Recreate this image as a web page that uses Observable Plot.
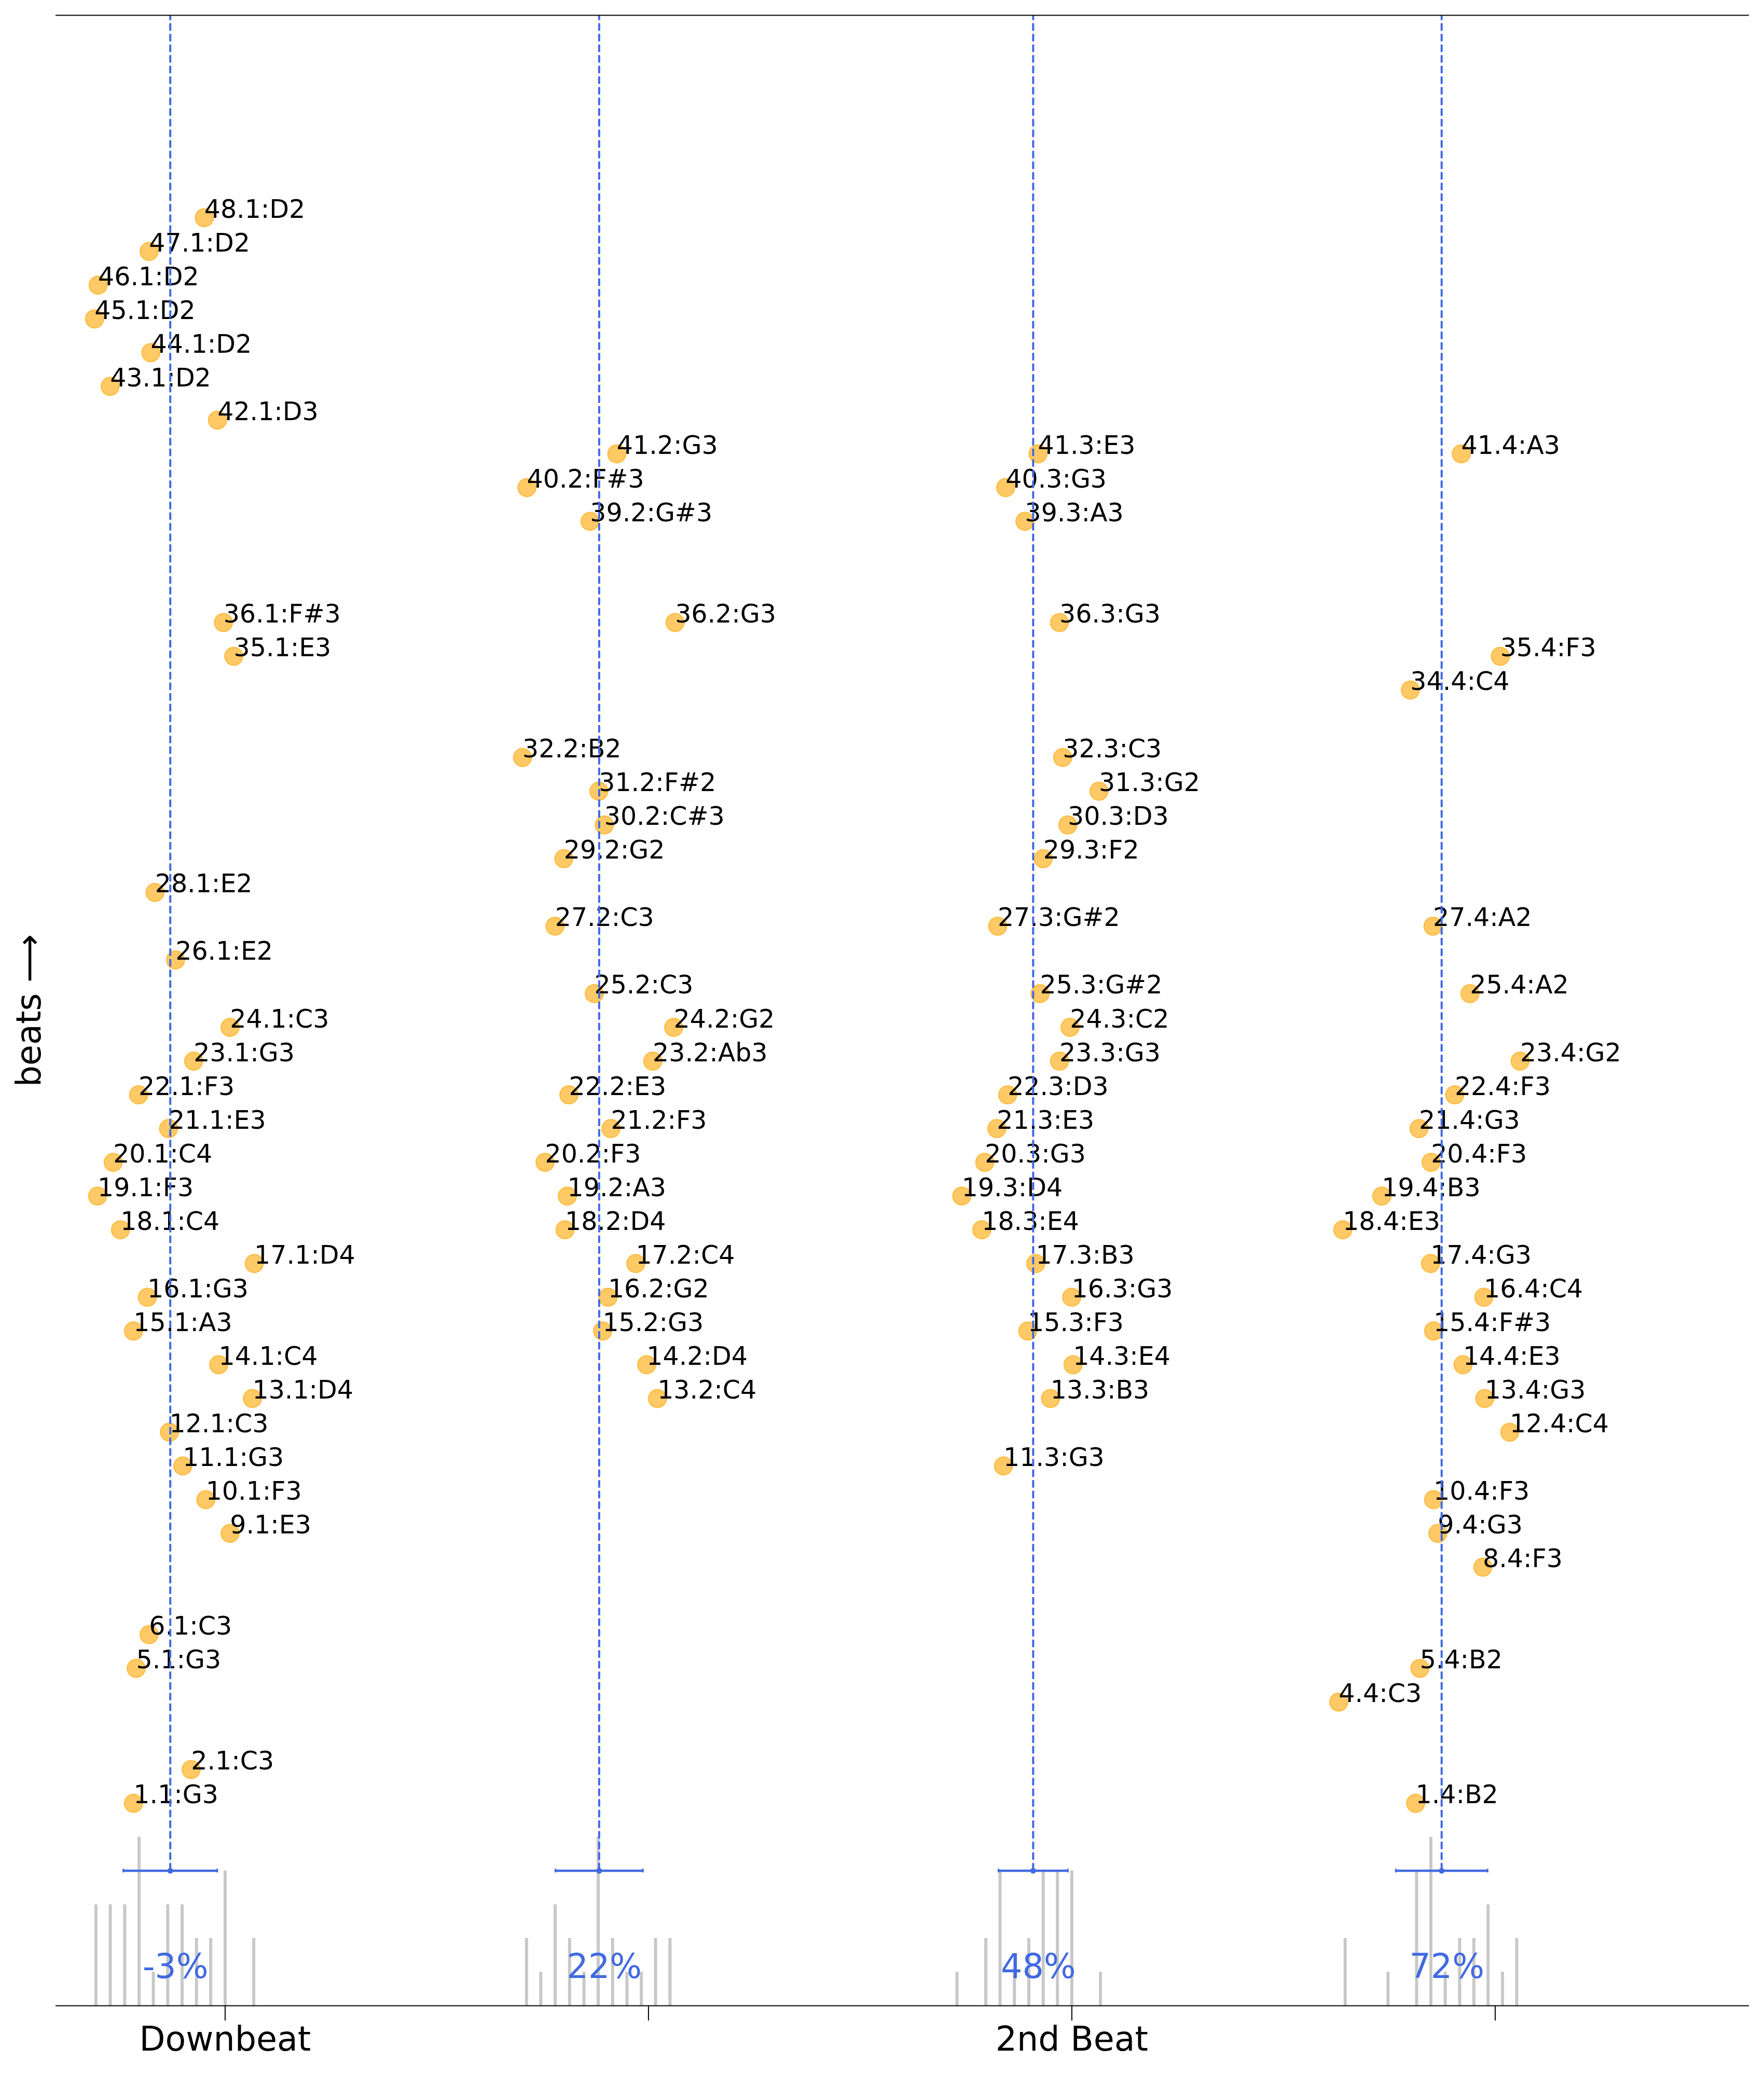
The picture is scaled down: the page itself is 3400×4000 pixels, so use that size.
<!DOCTYPE html>
<html>
<head>
<meta charset="utf-8">
<script src="https://cdn.jsdelivr.net/npm/d3@7"></script>
<script src="https://cdn.jsdelivr.net/npm/@observablehq/plot@0.6"></script>
<style>
  body { margin: 0; background: #fff; }
  #chart svg { font-family: "DejaVu Sans", sans-serif; display: block; }
</style>
</head>
<body>
<div id="chart"></div>
<script>
// ---- Data ----
// x-axis ticks (percent of the two-beat span)
const tickValues = [0, 25, 50, 75];
const tickLabels = ["Downbeat", "", "2nd Beat", ""];

// Beat 1 (downbeat)
const beat1Measures = [48, 47, 46, 45, 44, 43, 42, 36, 35, 28, 26, 24, 23, 22, 21, 20, 19, 18, 17, 16, 15, 14, 13, 12, 11, 10, 9, 6, 5, 2, 1];
const beat1Offsets  = [-1.23, -4.49, -7.50, -7.71, -4.39, -6.79, -0.45, -0.10, 0.51, -4.14, -2.93, 0.29, -1.86, -5.11, -3.34, -6.61, -7.53, -6.18, 1.72, -4.59, -5.41, -0.38, 1.61, -3.29, -2.50, -1.14, 0.29, -4.49, -5.25, -2.01, -5.41];
const beat1Notes    = ["D2", "D2", "D2", "D2", "D2", "D2", "D3", "F#3", "E3", "E2", "E2", "C3", "G3", "F3", "E3", "C4", "F3", "C4", "D4", "G3", "A3", "C4", "D4", "C3", "G3", "F3", "E3", "C3", "G3", "C3", "G3"];

// Beat 2
const beat2Measures = [41, 40, 39, 36, 32, 31, 30, 29, 27, 25, 24, 23, 22, 21, 20, 19, 18, 17, 16, 15, 14, 13];
const beat2Offsets  = [23.13, 17.82, 21.55, 26.57, 17.56, 22.07, 22.39, 20.00, 19.48, 21.80, 26.49, 25.25, 20.30, 22.78, 18.89, 20.21, 20.07, 24.25, 22.61, 22.29, 24.89, 25.53];
const beat2Notes    = ["G3", "F#3", "G#3", "G3", "B2", "F#2", "C#3", "G2", "C3", "C3", "G2", "Ab3", "E3", "F3", "F3", "A3", "D4", "C4", "G2", "G3", "D4", "C4"];

// Beat 3 (2nd beat)
const beat3Measures = [41, 40, 39, 36, 32, 31, 30, 29, 27, 25, 24, 23, 22, 21, 20, 19, 18, 17, 16, 15, 14, 13, 11];
const beat3Offsets  = [48.00, 46.09, 47.23, 49.27, 49.46, 51.60, 49.76, 48.31, 45.62, 48.12, 49.89, 49.27, 46.21, 45.57, 44.86, 43.50, 44.68, 47.87, 49.99, 47.40, 50.07, 48.74, 45.96];
const beat3Notes    = ["E3", "G3", "A3", "G3", "C3", "G2", "D3", "F2", "G#2", "G#2", "C2", "G3", "D3", "E3", "G3", "D4", "E4", "B3", "G3", "F3", "E4", "B3", "G3"];

// Beat 4
const beat4Measures = [41, 35, 34, 27, 25, 23, 22, 21, 20, 19, 18, 17, 16, 15, 14, 13, 12, 10, 9, 8, 5, 4, 1];
const beat4Offsets  = [73.00, 75.30, 69.99, 71.33, 73.51, 76.47, 72.61, 70.50, 71.21, 68.30, 66.00, 71.18, 74.33, 71.36, 73.10, 74.38, 75.86, 71.36, 71.61, 74.27, 70.55, 65.76, 70.30];
const beat4Notes    = ["A3", "F3", "C4", "A2", "A2", "G2", "F3", "G3", "F3", "B3", "E3", "G3", "C4", "F#3", "E3", "G3", "C4", "F3", "G3", "F3", "B2", "C3", "B2"];

// Histogram of onsets (bin position, count) per beat
const hist1Bins   = [-7.63, -6.78, -5.93, -5.08, -4.24, -3.39, -2.54, -1.69, -0.85, 0, 1.69];
const hist1Counts = [3, 3, 3, 5, 1, 3, 3, 2, 2, 4, 2];
const hist2Bins   = [17.80, 18.64, 19.49, 20.34, 21.19, 22.03, 22.88, 23.73, 24.58, 25.42, 26.27];
const hist2Counts = [2, 1, 3, 2, 1, 5, 2, 1, 1, 2, 2];
const hist3Bins   = [43.22, 44.92, 45.76, 46.61, 47.46, 48.31, 49.15, 50.0, 51.69];
const hist3Counts = [1, 2, 4, 1, 2, 4, 4, 4, 1];
const hist4Bins   = [66.14, 68.67, 70.36, 71.20, 72.05, 72.90, 73.74, 74.58, 75.43, 76.27];
const hist4Counts = [2, 1, 4, 5, 1, 2, 2, 3, 1, 2];

// ---- Build tables ----
const beats = [
  {n: 1, measures: beat1Measures, offsets: beat1Offsets, notes: beat1Notes},
  {n: 2, measures: beat2Measures, offsets: beat2Offsets, notes: beat2Notes},
  {n: 3, measures: beat3Measures, offsets: beat3Offsets, notes: beat3Notes},
  {n: 4, measures: beat4Measures, offsets: beat4Offsets, notes: beat4Notes}
];
const points = beats.flatMap(b => b.measures.map((m, i) => ({
  x: b.offsets[i], y: m, label: `${m}.${b.n}:${b.notes[i]}`
})));
const summary = beats.map(b => {
  const m = d3.mean(b.offsets);
  const sd = Math.sqrt(d3.mean(b.offsets, v => (v - m) ** 2));
  return {mean: m, lo: m - sd, hi: m + sd, label: `${Math.round(m)}%`};
});
const hist = [
  [hist1Bins, hist1Counts], [hist2Bins, hist2Counts],
  [hist3Bins, hist3Counts], [hist4Bins, hist4Counts]
].flatMap(([bins, counts]) => bins.map((x, i) => ({x, count: counts[i]})));

const yBase = -5, yTop = 54, yErr = -1;
const blue = "#4169e1";

const chart = Plot.plot({
  width: 3400,
  height: 4000,
  marginLeft: 107,
  marginRight: 29,
  marginTop: 29,
  marginBottom: 134,
  style: {fontFamily: "DejaVu Sans", background: "white", color: "black"},
  x: {domain: [-10, 90]},
  y: {domain: [yBase, yTop], axis: null},
  marks: [
    Plot.ruleX(hist, {x: "x", y1: yBase, y2: d => yBase + d.count, stroke: "#c8c8c8", strokeWidth: 6}),
    Plot.ruleY(summary, {y: yErr, x1: "lo", x2: "hi", stroke: blue, strokeWidth: 4.5}),
    Plot.ruleX(summary, {x: "lo", y1: yErr - 0.055, y2: yErr + 0.055, stroke: blue, strokeWidth: 3}),
    Plot.ruleX(summary, {x: "hi", y1: yErr - 0.055, y2: yErr + 0.055, stroke: blue, strokeWidth: 3}),
    Plot.dot(summary, {x: "mean", y: yErr, r: 5.5, fill: blue}),
    Plot.text(summary, {x: "mean", y: -4.18, text: "label", fill: blue, fontSize: 65, textAnchor: "middle", lineAnchor: "bottom", dx: 10}),
    Plot.dot(points, {x: "x", y: "y", r: 17.5, fill: "orange", fillOpacity: 0.6, stroke: "orange", strokeOpacity: 0.6, strokeWidth: 2}),
    Plot.text(points, {x: "x", y: "y", text: "label", fontSize: 49, fill: "black", textAnchor: "start", lineAnchor: "bottom"}),
    Plot.ruleX(summary, {x: "mean", y1: yErr, y2: yTop, stroke: blue, strokeWidth: 4, strokeDasharray: "14.5,6"}),
    Plot.ruleY([yBase], {stroke: "black", strokeWidth: 2}),
    Plot.ruleY([yTop], {stroke: "black", strokeWidth: 2}),
    Plot.axisX({ticks: tickValues, tickFormat: d => tickLabels[tickValues.indexOf(d)], tickSize: 29, tickPadding: 11, fontSize: 65, strokeWidth: 2, label: null}),
    Plot.text(["beats ⟶"], {frameAnchor: "left", dx: -50, rotate: -90, fontSize: 65, fill: "black", textAnchor: "middle", lineAnchor: "middle"})
  ]
});
document.getElementById("chart").appendChild(chart);
</script>
</body>
</html>
